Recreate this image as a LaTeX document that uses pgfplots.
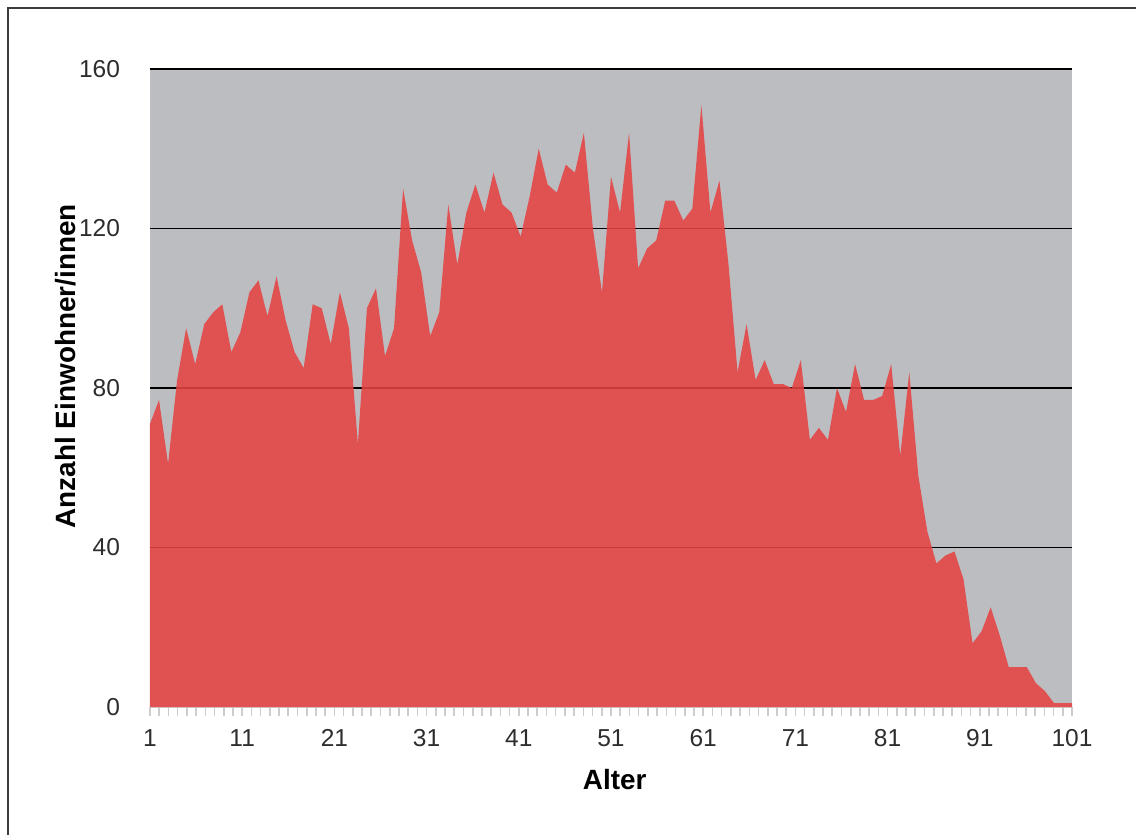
\documentclass[border=0pt]{standalone}
\usepackage{fontspec}
\setmainfont{Liberation Sans}
\usepackage{pgfplots}
\pgfplotsset{compat=1.18}
\definecolor{bggray}{RGB}{188,189,193}
\definecolor{areared}{RGB}{229,67,67}
\definecolor{tickgray}{RGB}{205,205,205}
\definecolor{framegray}{RGB}{60,60,60}
\definecolor{labelgray}{RGB}{45,45,45}

\begin{document}
\begin{tikzpicture}
\path[use as bounding box] (-75bp,-64bp) rectangle (493bp,353.5bp);
\begin{axis}[
    scale only axis,
    width=461bp, height=319bp,
    at={(0,0)}, anchor=south west,
    xmin=0, xmax=102, ymin=0, ymax=160,
    axis background/.style={fill=bggray},
    axis x line*=bottom, axis y line*=left,
    x axis line style={tickgray, line width=0.8bp},
    y axis line style={draw=none},
    xtick={0,10.2,20.4,30.6,40.8,51,61.2,71.4,81.6,91.8,102},
    xticklabels={1,11,21,31,41,51,61,71,81,91,101},
    minor x tick num=9,
    tick align=outside,
    major tick length=4.5bp, minor tick length=4.5bp,
    xtick style={tickgray, line width=0.8bp},
    ytick style={draw=none},
    ytick={40,80,120,160},
    extra y ticks={0},
    extra y tick style={grid=none},
    ymajorgrids,
    grid style={black, line width=0.6bp},
    /pgf/number format/assume math mode=true,
    ticklabel style={font=\fontsize{12.3}{14}\selectfont, text=labelgray},
    yticklabel style={xshift=-7bp},
    xticklabel style={yshift=-3.2bp},
    xlabel={Alter},
    ylabel={Anzahl Einwohner/innen},
    every axis x label/.style={at={(axis description cs:0.504,-0.114)}, anchor=center,
        font=\fontsize{14}{16}\selectfont\bfseries, text=black},
    every axis y label/.style={at={(axis description cs:-0.092,0.534)}, anchor=center,
        rotate=90, font=\fontsize{14}{16}\selectfont\bfseries, text=black},
]
\addplot[fill=areared, fill opacity=0.88, draw=none] coordinates {
(0,71) (1,77) (2,61) (3,82) (4,95) (5,86) (6,96) (7,99) (8,101) (9,89)
(10,94) (11,104) (12,107) (13,98) (14,108) (15,97) (16,89) (17,85) (18,101) (19,100)
(20,91) (21,104) (22,95) (23,66) (24,100) (25,105) (26,88) (27,95) (28,130) (29,117)
(30,109) (31,93) (32,99) (33,126) (34,111) (35,124) (36,131) (37,124) (38,134) (39,126)
(40,124) (41,118) (42,128) (43,140) (44,131) (45,129) (46,136) (47,134) (48,144) (49,120)
(50,104) (51,133) (52,124) (53,144) (54,110) (55,115) (56,117) (57,127) (58,127) (59,122)
(60,125) (61,151) (62,124) (63,132) (64,111) (65,84) (66,96) (67,82) (68,87) (69,81)
(70,81) (71,80) (72,87) (73,67) (74,70) (75,67) (76,80) (77,74) (78,86) (79,77)
(80,77) (81,78) (82,86) (83,63) (84,84) (85,58) (86,44) (87,36) (88,38) (89,39)
(90,32) (91,16) (92,19) (93,25) (94,18) (95,10) (96,10) (97,10) (98,6) (99,4)
(100,1) (101,1) (102,1)
} \closedcycle;
\end{axis}
\draw[framegray, line width=0.8bp] (-71bp,-64bp) -- (-71bp,349.5bp) -- (493bp,349.5bp);
\end{tikzpicture}
\end{document}
